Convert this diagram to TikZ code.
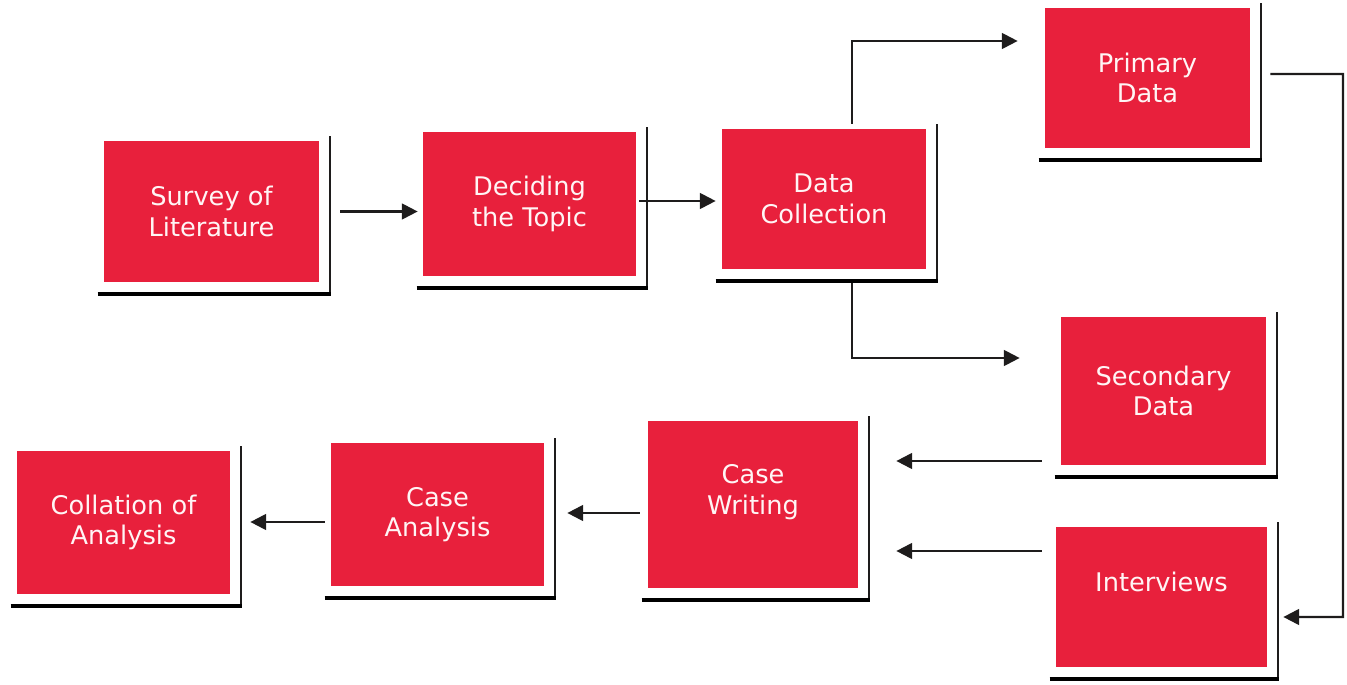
\documentclass[tikz,border=0pt]{standalone}
\usepackage{fontspec}
\setmainfont{DejaVu Sans}
\usepackage{tikz}
\usetikzlibrary{calc,arrows.meta}
\definecolor{boxred}{RGB}{232,32,60}
\definecolor{shade}{RGB}{82,20,36}
\definecolor{ink}{RGB}{30,28,28}
\begin{document}
\begin{tikzpicture}
  \tikzstyle{stage}=[rectangle,fill=boxred,text=white!96!red,align=center,inner sep=0pt,font=\fontsize{14.6}{17.4}\selectfont]
  \tikzstyle{flow}=[draw=ink,line width=1.2pt,-{Triangle[length=9pt,width=9pt]}]
  \useasboundingbox (0,0) rectangle (26.94,13.68);
  \node[stage,minimum width=4.30cm,minimum height=2.82cm] (survey) at (4.23,9.45) {Survey of\\Literature};
  \node[stage,minimum width=4.26cm,minimum height=2.88cm] (topic) at (10.59,9.60) {Deciding\\the Topic};
  \node[stage,minimum width=4.08cm,minimum height=2.80cm] (collect) at (16.48,9.70) {Data\\Collection};
  \node[stage,minimum width=4.10cm,minimum height=2.80cm] (primary) at (22.95,12.12) {Primary\\Data};
  \node[stage,minimum width=4.10cm,minimum height=2.96cm] (secondary) at (23.27,5.86) {Secondary\\Data};
  \node[stage,minimum width=4.22cm,minimum height=2.80cm,text depth=0.62cm] (interviews) at (23.23,1.74) {Interviews};
  \node[stage,minimum width=4.20cm,minimum height=3.34cm,text depth=0.6cm] (writing) at (15.06,3.59) {Case\\Writing};
  \node[stage,minimum width=4.26cm,minimum height=2.86cm] (analysis) at (8.75,3.39) {Case\\Analysis};
  \node[stage,minimum width=4.26cm,minimum height=2.86cm] (collation) at (2.47,3.23) {Collation of\\Analysis};
  % L-shaped shadow at the right and below each box
  \foreach \b in {survey,topic,collect,primary,secondary,interviews,writing,analysis,collation}{
    \draw[ink,line width=1.2pt] ($(\b.north east)+(0.21,0.09)$) -- ($(\b.south east)+(0.21,-0.27)$);
    \draw[shade,line width=2.6pt] ($(\b.south west)+(-0.12,-0.23)$) -- ($(\b.south east)+(0.23,-0.23)$);
  }
  % arrows
  \draw[flow] ([xshift=0.42cm]survey.east) -- ([xshift=-0.10cm]survey.east -| topic.west);
  \draw[flow] ([xshift=0.06cm,yshift=0.06cm]topic.east) -- ([xshift=-0.12cm,yshift=0.06cm]topic.east -| collect.west);
  \draw[flow] ([xshift=0.56cm,yshift=0.10cm]collect.north) |- ([xshift=-0.54cm,yshift=0.74cm]primary.west);
  \draw[flow] ([xshift=0.56cm,yshift=-0.28cm]collect.south) |- ([xshift=-0.82cm,yshift=0.66cm]secondary.west);
  \coordinate (loop) at (26.86,12.20);
  \draw[flow] ([xshift=0.40cm,yshift=0.08cm]primary.east) -- (loop) |- ([xshift=0.32cm,yshift=-0.40cm]interviews.east);
  \draw[flow] ([xshift=-0.38cm,yshift=-1.40cm]secondary.west) -- ([xshift=0.76cm,yshift=-1.40cm]secondary.west -| writing.east);
  \draw[flow] ([xshift=-0.28cm,yshift=0.92cm]interviews.west) -- ([xshift=0.76cm,yshift=0.92cm]interviews.west -| writing.east);
  \draw[flow] ([xshift=-0.16cm,yshift=-0.17cm]writing.west) -- ([xshift=0.46cm,yshift=-0.17cm]writing.west -| analysis.east);
  \draw[flow] ([xshift=-0.12cm,yshift=-0.15cm]analysis.west) -- ([xshift=0.40cm,yshift=-0.15cm]analysis.west -| collation.east);
\end{tikzpicture}
\end{document}
